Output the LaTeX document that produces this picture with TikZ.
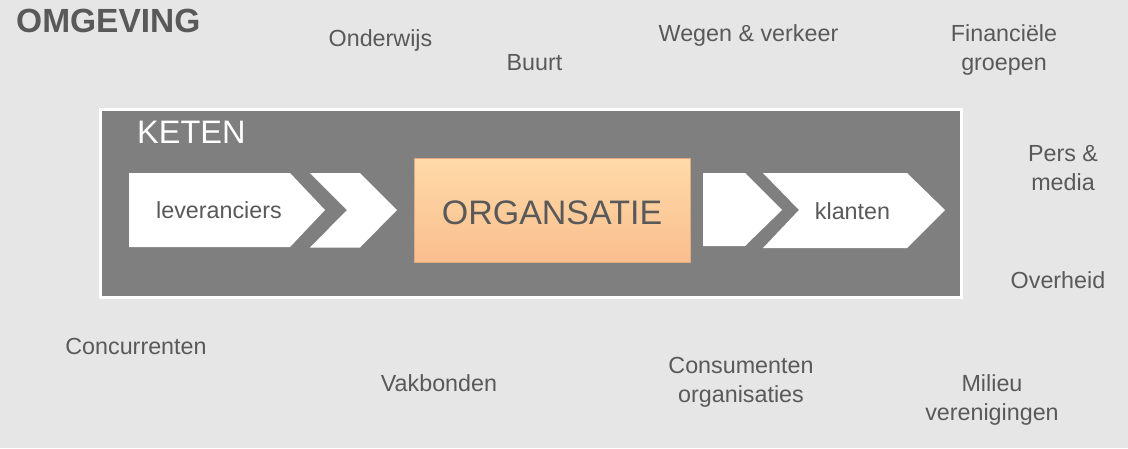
\documentclass[tikz,border=0pt]{standalone}
\usepackage{fontspec}
\setmainfont{Liberation Sans}
\usetikzlibrary{shadows}
\definecolor{bg}{RGB}{230,230,230}
\definecolor{txt}{RGB}{89,89,89}
\definecolor{ketengray}{RGB}{127,127,127}
\definecolor{orgtop}{RGB}{255,218,168}
\definecolor{orgbot}{RGB}{250,190,142}
\begin{document}
\begin{tikzpicture}[x=1pt,y=-1pt,
  lbl/.style={text=txt, font=\fontsize{23.3}{29}\selectfont, inner sep=0pt, anchor=base, align=center},
  ketenbox/.style={fill=ketengray, draw=white, line width=2.5pt, inner sep=0pt,
     drop shadow={shadow xshift=2pt, shadow yshift=-2pt, opacity=0.3}},
  chev/.style={fill=white, draw=none,
     drop shadow={shadow xshift=1.5pt, shadow yshift=-2.5pt, opacity=0.35}},
  orgbox/.style={top color=orgtop, bottom color=orgbot, draw=orgbot!90!black, line width=0.4pt,
     inner sep=0pt, drop shadow={shadow xshift=1.5pt, shadow yshift=-2.5pt, opacity=0.35}},
  chevtxt/.style={text=txt, font=\fontsize{23.3}{28}\selectfont, inner sep=0pt, anchor=base}]
\fill[bg] (0,0) rectangle (1128,448);
\useasboundingbox (0,0) rectangle (1128,448);

% title
\node[text=txt, font=\bfseries\fontsize{33.5}{38}\selectfont, inner sep=0pt, anchor=base west] (omgeving) at (16,32) {OMGEVING};

% keten box
\node[ketenbox, minimum width=861pt, minimum height=188pt, anchor=north west] (keten) at (99,108) {};
\node[text=white, font=\fontsize{32.5}{38}\selectfont, inner sep=0pt, anchor=base west] (ketenlbl) at (137,143) {KETEN};

% chevrons
\path[chev] (129,173) -- (290,173) -- (325,210) -- (290,247) -- (129,247) -- cycle;
\path[chev] (310,173) -- (360,173) -- (397,210) -- (360,247.5) -- (310,247.5) -- (347,210) -- cycle;
\path[chev] (703,173) -- (745,173) -- (782,210) -- (745,246) -- (703,246) -- cycle;
\path[chev] (763,173) -- (907,173) -- (945,210) -- (907,248) -- (763,248) -- (799,210) -- cycle;
\node[chevtxt] (lev) at (219,218.5) {leveranciers};
\node[chevtxt] (klant) at (852.5,219) {klanten};

% organisatie
\node[orgbox, minimum width=276pt, minimum height=104pt, anchor=north west] (org) at (414,158) {};
\node[text=txt, font=\fontsize{34}{40}\selectfont, inner sep=0pt, anchor=base] (orglbl) at (552,224) {ORGANSATIE};

% environment labels (base = baseline of last line)
\node[lbl] (onderwijs) at (380.5,46) {Onderwijs};
\node[lbl] (buurt) at (534.5,70) {Buurt};
\node[lbl] (wegen) at (748.5,41) {Wegen \& verkeer};
\node[lbl] (fin) at (1004,70) {Financiële\\groepen};
\node[lbl] (pers) at (1063,190) {Pers \&\\media};
\node[lbl] (overheid) at (1058,288) {Overheid};
\node[lbl] (conc) at (136,354) {Concurrenten};
\node[lbl] (vak) at (439,391) {Vakbonden};
\node[lbl] (cons) at (741,402) {Consumenten\\organisaties};
\node[lbl] (milieu) at (992,420) {Milieu\\verenigingen};
\end{tikzpicture}
\end{document}
